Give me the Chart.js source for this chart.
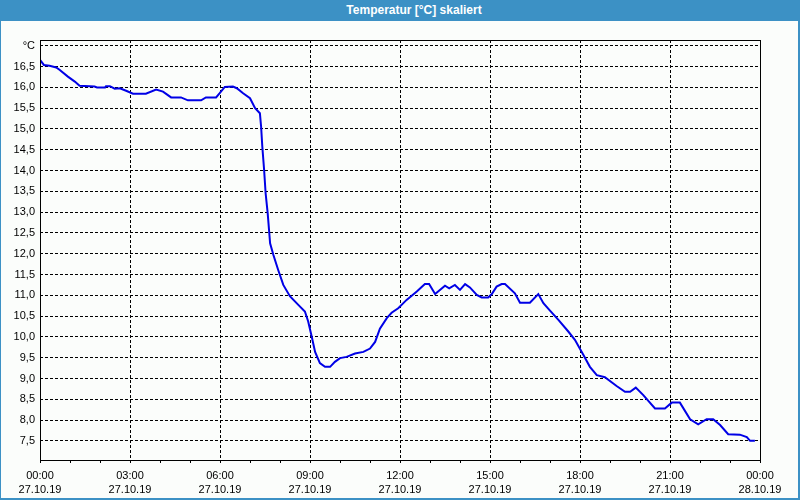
<!DOCTYPE html>
<html>
<head>
<meta charset="utf-8">
<script src="https://cdn.jsdelivr.net/npm/chart.js@4/dist/chart.umd.min.js"></script>
<style>
  html, body { margin: 0; padding: 0; background: #fbfdfb; }
  #wrap { position: relative; width: 800px; height: 500px; background: #fbfdfb; overflow: hidden; }
  #c { position: absolute; left: 0; top: 0; }
  #title { position: absolute; left: 0; top: 0; width: 772px; padding-left: 28px; height: 21px; background: #3c91c5;
           color: #fff; font: bold 12px "Liberation Sans", Arial, sans-serif; line-height: 21px; text-align: center; }
  .b { position: absolute; background: #3c91c5; }
</style>
</head>
<body>
<div id="wrap">
  <canvas id="c" width="800" height="500"></canvas>
  <div id="title">Temperatur [°C] skaliert</div>
  <div class="b" style="left:0;top:0;width:1px;height:500px"></div>
  <div class="b" style="right:0;top:0;width:2px;height:500px"></div>
  <div class="b" style="left:0;bottom:0;width:800px;height:2px"></div>
</div>
<script>
// Time in hours since 27.10.19 00:00
const hours = [0.0,0.13,0.32,0.54,0.66,0.93,1.16,1.32,1.82,1.9,2.17,2.2,2.33,2.49,2.66,2.87,3.1,3.53,3.87,4.1,4.37,4.7,4.93,5.37,5.53,5.87,5.99,6.16,6.43,6.56,6.77,7.0,7.17,7.33,7.37,7.41,7.47,7.52,7.59,7.67,7.78,7.94,8.11,8.33,8.61,8.83,8.94,9.06,9.17,9.33,9.5,9.67,9.83,10.0,10.22,10.5,10.78,11.0,11.17,11.33,11.56,11.72,11.94,12.22,12.56,12.83,12.97,13.17,13.5,13.64,13.83,14.0,14.17,14.33,14.56,14.72,14.94,15.06,15.22,15.39,15.5,15.83,16.0,16.33,16.61,16.78,17.0,17.28,17.61,17.83,18.11,18.33,18.56,18.83,19.22,19.5,19.67,19.86,20.11,20.5,20.83,21.06,21.33,21.67,21.94,22.22,22.44,22.67,22.94,23.33,23.56,23.67,23.83];
const temperature = [16.66,16.54,16.52,16.48,16.42,16.26,16.14,16.04,16.02,16.0,16.0,16.03,16.03,15.97,15.98,15.92,15.85,15.85,15.95,15.9,15.76,15.76,15.69,15.69,15.76,15.76,15.86,16.01,16.02,15.98,15.86,15.74,15.5,15.38,15.06,14.58,14.02,13.46,12.97,12.25,11.97,11.61,11.25,10.98,10.77,10.61,10.37,10.0,9.64,9.37,9.28,9.28,9.4,9.49,9.52,9.6,9.64,9.72,9.88,10.2,10.45,10.58,10.69,10.89,11.09,11.27,11.27,11.03,11.23,11.17,11.25,11.13,11.27,11.19,11.01,10.95,10.95,11.03,11.21,11.27,11.27,11.05,10.82,10.82,11.03,10.81,10.63,10.41,10.13,9.93,9.57,9.28,9.08,9.03,8.82,8.68,8.68,8.78,8.6,8.28,8.28,8.42,8.42,8.02,7.9,8.02,8.02,7.88,7.66,7.65,7.59,7.5,7.5];
const yTickValues = [7.5,8.0,8.5,9.0,9.5,10.0,10.5,11.0,11.5,12.0,12.5,13.0,13.5,14.0,14.5,15.0,15.5,16.0,16.5,17.0];
const yUnitLabel = '°C';
const xTimeLabels = ['00:00','03:00','06:00','09:00','12:00','15:00','18:00','21:00','00:00'];
const xDateLabels = ['27.10.19','27.10.19','27.10.19','27.10.19','27.10.19','27.10.19','27.10.19','27.10.19','28.10.19'];

const points = hours.map((h, i) => ({x: h, y: temperature[i]}));
const FONT = {family: '"Liberation Sans", Arial, sans-serif', size: 11};

const framePlugin = {
  id: 'frame',
  afterDraw(chart) {
    const {ctx, chartArea: a} = chart;
    ctx.save();
    ctx.strokeStyle = '#000';
    ctx.lineWidth = 1;
    ctx.setLineDash([]);
    ctx.strokeRect(Math.round(a.left) + 0.5, Math.round(a.top) + 0.5,
                   Math.round(a.right - a.left), Math.round(a.bottom - a.top));
    ctx.restore();
  }
};

new Chart(document.getElementById('c'), {
  type: 'line',
  data: {
    datasets: [{
      data: points,
      borderColor: '#0000e6',
      borderWidth: 2,
      pointRadius: 0,
      tension: 0,
      fill: false
    }]
  },
  options: {
    responsive: false,
    animation: false,
    devicePixelRatio: 1,
    layout: {padding: {left: 0, right: 40, top: 40, bottom: 0}},
    plugins: {legend: {display: false}, tooltip: {enabled: false}, title: {display: false}},
    scales: {
      x: {
        type: 'linear',
        min: 0, max: 24,
        afterFit(s) { s.height = 40; },
        ticks: {
          stepSize: 1, autoSkip: false, maxRotation: 0, minRotation: 0,
          color: '#000', font: {...FONT, lineHeight: 1.36}, padding: 5,
          callback(v) {
            if (v % 3 !== 0) return '';
            const i = v / 3;
            return [xTimeLabels[i], xDateLabels[i]];
          }
        },
        grid: {
          drawTicks: true, tickLength: 3, tickColor: '#000', tickBorderDash: [],
          color: (c) => (c.tick && c.tick.value % 3 === 0 && c.tick.value > 0 && c.tick.value < 24) ? '#000' : 'rgba(0,0,0,0)',
          lineWidth: 1
        },
        border: {display: false, dash: [3, 2]}
      },
      y: {
        type: 'linear',
        min: 7.04, max: 17.14,
        afterFit(s) { s.width = 40; },
        afterBuildTicks(s) { s.ticks = yTickValues.map(v => ({value: v})); },
        ticks: {
          color: '#000', font: FONT, padding: 5,
          callback(v) { return Math.abs(v - 17) < 1e-6 ? yUnitLabel : v.toFixed(1).replace('.', ','); }
        },
        grid: {
          drawTicks: false, color: '#000', lineWidth: 1
        },
        border: {display: false, dash: [3, 2]}
      }
    }
  },
  plugins: [framePlugin]
});
</script>
</body>
</html>
